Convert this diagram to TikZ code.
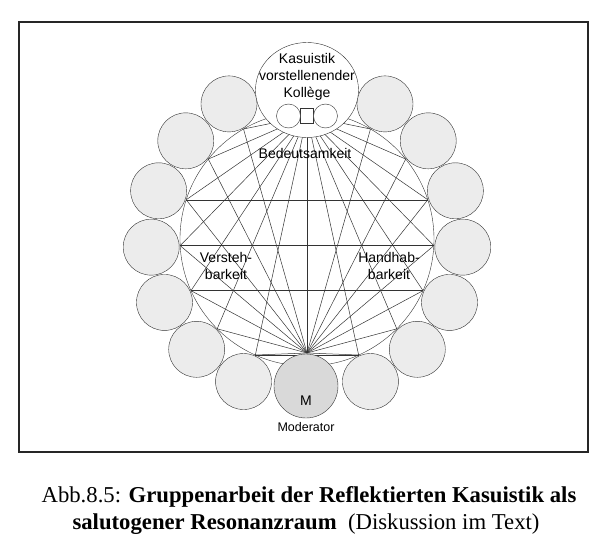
\documentclass[tikz,border=0pt]{standalone}
\usepackage{fontspec}
\setmainfont{Liberation Serif}
\newfontfamily\arial{Liberation Sans}
\usetikzlibrary{positioning,shapes.geometric}
\begin{document}
\begin{tikzpicture}[x=1pt,y=1pt]
\tikzstyle{member} = [circle, draw=black!80, fill=gray!15, minimum size=56pt, inner sep=0pt] % Gruppenmitglied
\tikzstyle{ray} = [draw=black!80, line width=0.5pt] % Verbindungslinie
\tikzstyle{word} = [font=\arial\fontsize{14}{17}\selectfont, align=center, inner sep=0pt] % Beschriftung
\useasboundingbox (-307,-302) rectangle (285,239);
\draw[line width=1.1pt, black!85] (-288,217) rectangle (281,-213); % Rahmen
% Punkte auf dem grossen Kreis
\foreach \a [count=\k] in {30,51,72,93,114,135,156} {
  \coordinate (pl\k) at (90+\a:127);
  \coordinate (pr\k) at (90-\a:127);
}
\coordinate (T) at (0,123); % Kasuistik
\coordinate (B) at (0,-114); % Moderator
\foreach \k in {1,...,7}
  \draw[ray] (T) -- (pl\k) (T) -- (pr\k) (B) -- (pl\k) (B) -- (pr\k);
\draw[ray] (T) -- (B);
\foreach \k in {3,4,5,7} \draw[ray] (pl\k) -- (pr\k); % waagerechte Sehnen
\node[circle, draw=black!80, minimum size=254pt, inner sep=0pt] (ring) at (0,0) {}; % grosser Kreis
\foreach \a [count=\k] in {30,51,72,93,114,135,156} {
  \node[member] (l\k) at (90+\a:156) {};
  \node[member] (r\k) at (90-\a:156) {};
}
\node[circle, draw=black!80, fill=gray!30, minimum size=64pt, inner sep=0pt] (M) at (-1,-147) {}; % Moderator
\node[word] (m) at ([yshift=-15pt]M.center) {M};
\node[word, font=\arial\fontsize{12.5}{15}\selectfont, below=4pt of M] (mod) {Moderator};
\node[ellipse, draw=black!80, fill=white, minimum width=103pt, minimum height=95pt, inner sep=0pt] (K) at (0,149) {}; % Kollege
\node[word] (kt) at (0,162) {Kasuistik\\vorstellenender\\Koll\`ege};
\node[draw=black!80, fill=white, minimum width=13pt, minimum height=15pt, inner sep=0pt] (d0) at (0,123) {};
\node[circle, draw=black!80, fill=white, minimum size=24pt, inner sep=0pt] (d1) at (-18.5,123) {};
\node[circle, draw=black!80, fill=white, minimum size=24pt, inner sep=0pt] (d2) at (18.5,123) {};
\node[word] (bed) at (-2,86) {Bedeutsamkeit};
\node[word] (ver) at (-81,-27) {Versteh-\\barkeit};
\node[word] (han) at (82,-27) {Handhab-\\barkeit};
% Bildunterschrift
\node[font=\fontsize{22.7}{27}\selectfont, inner sep=0pt] (cap1) at (2,-258) {Abb.8.5: \textbf{Gruppenarbeit der Reflektierten Kasuistik als}};
\node[font=\fontsize{22.7}{27}\selectfont, inner sep=0pt] (cap2) at (-1,-285) {\textbf{salutogener Resonanzraum}\ \ (Diskussion im Text)};
\end{tikzpicture}
\end{document}
